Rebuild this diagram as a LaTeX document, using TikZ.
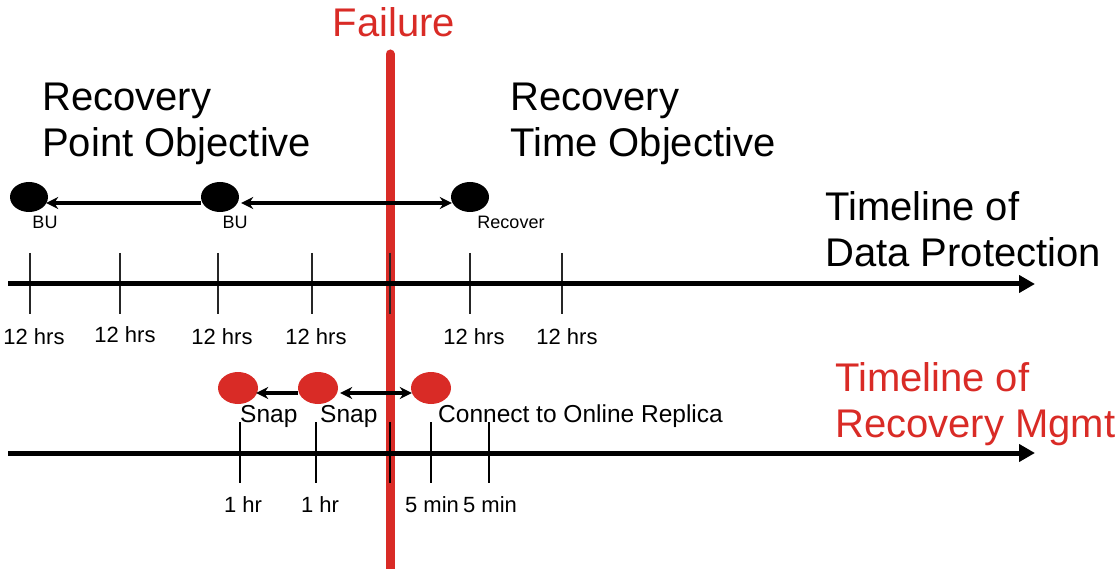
\documentclass[tikz,border=0pt]{standalone}
\usepackage{fontspec}
\setmainfont{Liberation Sans}
\usetikzlibrary{shapes.geometric,arrows.meta}
\definecolor{fred}{RGB}{217,43,38}
\begin{document}
\begin{tikzpicture}[x=1pt,y=-1pt,
  big/.style={font=\fontsize{40}{46}\selectfont,align=left,anchor=base west,inner sep=0},
  tick/.style={line width=1.3pt,draw=black!85},
  axis/.style={line width=5pt,-{Triangle[length=16pt,width=17pt]}},
  hrs/.style={font=\fontsize{22}{26}\selectfont,anchor=base,inner sep=0},
  small/.style={font=\fontsize{18}{22}\selectfont,anchor=base,inner sep=0},
  snap/.style={font=\fontsize{24.5}{28}\selectfont,anchor=base west,inner sep=0},
  bdot/.style={ellipse,fill=black,minimum width=38pt,minimum height=30pt,inner sep=0},
  rdot/.style={ellipse,fill=fred,minimum width=40pt,minimum height=32pt,inner sep=0},
  link/.style={line width=3.2pt,-{Stealth[length=12pt,width=12pt]}},
  dlink/.style={line width=3.2pt,{Stealth[length=12pt,width=12pt]}-{Stealth[length=12pt,width=12pt]}}
]
\useasboundingbox (0,0) rectangle (1116,569);
% failure line
\coordinate (ftop) at (390,54);
\coordinate (fbot) at (390,575);
\draw[fred,line width=9pt,line cap=round] (ftop) -- (fbot);
\node[big,text=fred,anchor=base] (failure) at (394,37) {Failure};
% titles
\node[big] (rpo) at (42,157) {Recovery\\Point Objective};
\node[big] (rto) at (510,157) {Recovery\\Time Objective};
\node[big] (tdp) at (825,267) {Timeline of\\Data Protection};
\node[big,text=fred] (trm) at (835,437) {Timeline of\\Recovery Mgmt};
% upper timeline
\coordinate (a1) at (8,284);
\coordinate (a2) at (1035,284);
\foreach \x/\n in {30/1,120/2,218/3,312/4,390/5,470/6,562/7}{
  \coordinate (ut\n a) at (\x,253);
  \coordinate (ut\n b) at (\x,314);
  \draw[tick] (ut\n a) -- (ut\n b);
}
\draw[axis] (a1) -- (a2);
\node[hrs] (h1) at (34,344) {12 hrs};
\node[hrs] (h2) at (125,342) {12 hrs};
\node[hrs] (h3) at (222,344) {12 hrs};
\node[hrs] (h4) at (316,344) {12 hrs};
\node[hrs] (h6) at (474,344) {12 hrs};
\node[hrs] (h7) at (567,344) {12 hrs};
% black dots
\node[bdot] (e1) at (29,197) {};
\node[bdot] (e2) at (220,197) {};
\node[bdot] (e3) at (470,197) {};
\draw[link] ([yshift=-6pt]e2.west) -- ([yshift=-6pt,xshift=-2pt]e1.east);
\draw[dlink] ([yshift=-6pt,xshift=2pt]e2.east) -- ([yshift=-6pt,xshift=1pt]e3.west);
\node[small] (bu1) at (45,229) {BU};
\node[small] (bu2) at (235,229) {BU};
\node[small] (rec) at (511,229) {Recover};
% lower timeline
\coordinate (b1) at (8,453);
\coordinate (b2) at (1035,453);
\foreach \x/\n in {240/1,316/2,390/3,431/4,489/5}{
  \coordinate (lt\n a) at (\x,422);
  \coordinate (lt\n b) at (\x,483);
  \draw[tick,draw=black] (lt\n a) -- (lt\n b);
}
\draw[axis] (b1) -- (b2);
\node[hrs] (m1) at (243,512) {1 hr};
\node[hrs] (m2) at (320,512) {1 hr};
\node[hrs] (m3) at (432,512) {5 min};
\node[hrs] (m4) at (490,512) {5 min};
% red dots
\node[rdot] (r1) at (238,388) {};
\node[rdot] (r2) at (318,388) {};
\node[rdot] (r3) at (431,388) {};
\draw[link] ([yshift=-5pt]r2.west) -- ([yshift=-5pt,xshift=-2pt]r1.east);
\draw[dlink] ([yshift=-5pt,xshift=2pt]r2.east) -- ([yshift=-5pt,xshift=1pt]r3.west);
\node[snap] (s1) at (240,422) {Snap};
\node[snap] (s2) at (320,422) {Snap};
\node[snap] (s3) at (438,422) {Connect to Online Replica};
\end{tikzpicture}
\end{document}
